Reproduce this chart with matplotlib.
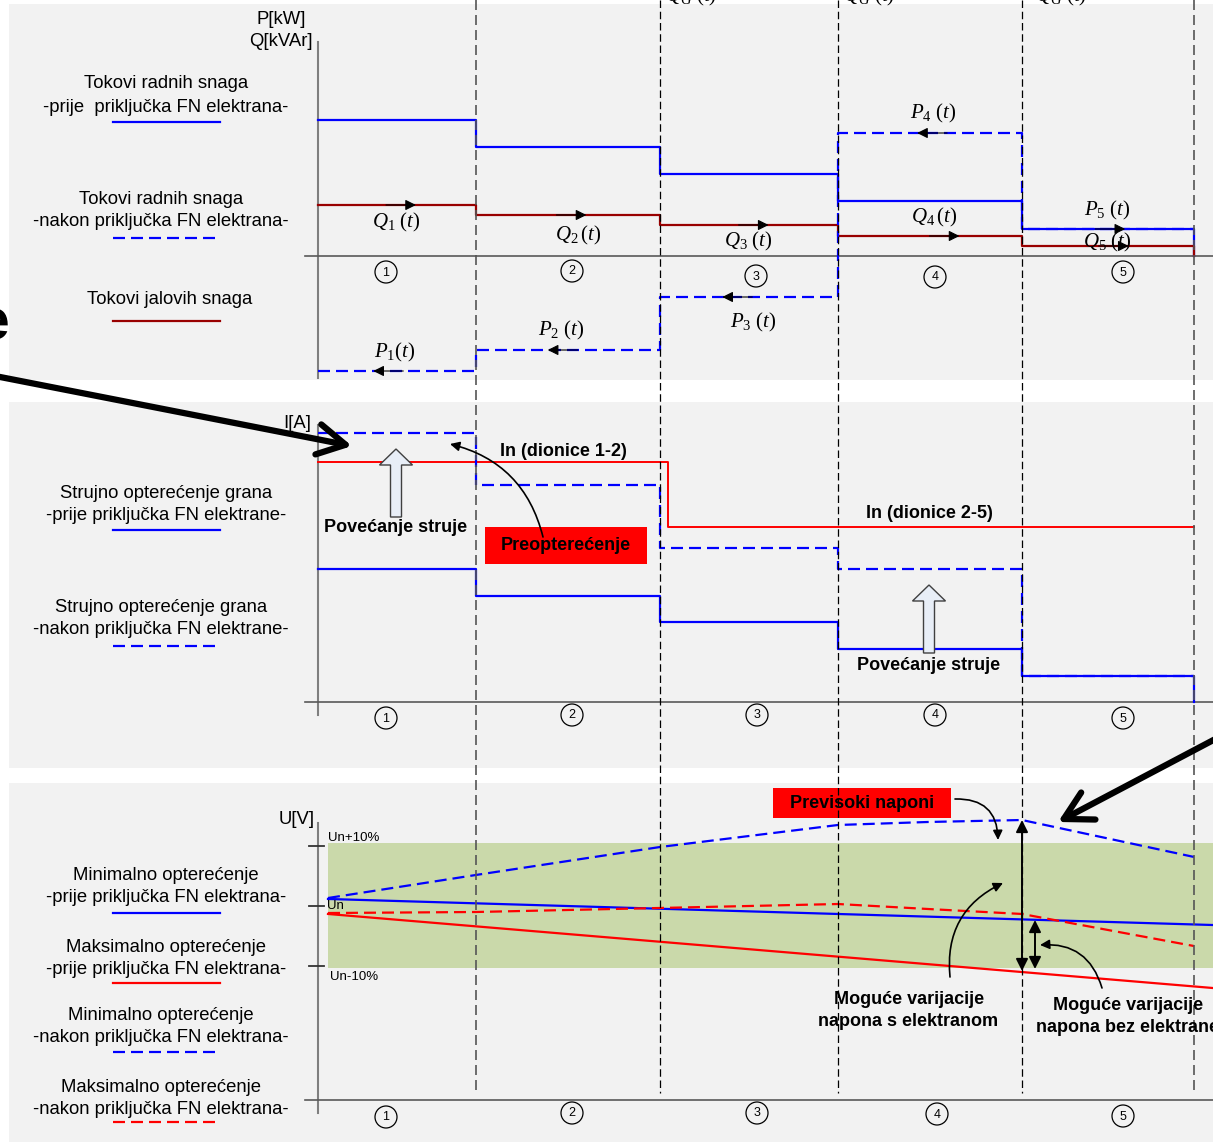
import matplotlib.pyplot as plt
import matplotlib.transforms as mtransforms
from matplotlib.patches import Rectangle, FancyArrow, Circle

plt.rcParams['font.family'] = ['Liberation Sans', 'DejaVu Sans']
plt.rcParams['mathtext.fontset'] = 'custom'
plt.rcParams['mathtext.rm'] = 'Liberation Serif'
plt.rcParams['mathtext.it'] = 'Liberation Serif:italic'

W, H = 1213, 1142

# feeder sections, distance along the line (arbitrary units)
sections = ['1', '2', '3', '4', '5']
edges = [0, 1.58, 3.42, 5.20, 7.04, 8.76]

# power flows per section
p_before = [13.6, 10.9, 8.2, 5.5, 2.7]
q_flow = [5.1, 4.1, 3.1, 2.0, 1.0]
p_after = [-11.5, -9.4, -4.1, 12.3, 2.7]

# branch currents per section
i_rated_x = [0, 3.50, 8.76]
i_rated = [24.0, 17.5]
i_before = [13.3, 10.6, 8.0, 5.3, 2.6]
i_after = [26.9, 21.7, 15.4, 13.3, 2.6]

# voltage profiles, % deviation from Un
u_x = [0.1, 8.95]
u_min_before = [1.17, -3.17]
u_max_before = [-1.33, -13.67]
u_after_x = [0.1, 1.58, 3.42, 5.20, 6.1, 7.04, 8.76]
u_min_after = [1.33, 5.17, 9.83, 13.5, 14.0, 14.33, 8.17]
u_max_after = [-1.17, -1.0, -0.33, 0.33, -0.5, -1.33, -6.67]
u_band = [-10.3, 10.5]

BLUE = '#0000ff'
RED = '#ff0000'
DRED = '#990000'
GRAY = '#7f7f7f'
DASH = (5.4, 2.7)

fig = plt.figure(figsize=(W / 100, H / 100), dpi=100)
fig.patch.set_facecolor('white')


def px_axes(z):
    a = fig.add_axes([0, 0, 1, 1], zorder=z)
    a.set_xlim(0, W)
    a.set_ylim(H, 0)
    a.axis('off')
    a.patch.set_alpha(0)
    return a


bg = px_axes(0)
for y0, y1 in [(4, 380), (402, 768), (783, 1142)]:
    bg.add_patch(Rectangle((9, y0), W - 9, y1 - y0, fc='#f2f2f2', ec='none'))


def panel(top, bottom, ylo, yhi):
    a = fig.add_axes([0, 1 - bottom / H, 1, (bottom - top) / H], zorder=1)
    a.set_xlim(-3.18, 8.95)
    a.set_ylim(ylo, yhi)
    a.axis('off')
    a.patch.set_alpha(0)
    return a


ax1 = panel(0, 380, -12.4, 25.6)
ax2 = panel(390, 768, -6.6, 31.2)
ax3 = panel(775, 1142, -39.33, 21.83)


def steps(ax, levels, drop=True, **kw):
    xs = list(edges)
    ys = list(levels) + [levels[-1]]
    if drop:
        xs.append(edges[-1])
        ys.append(0)
    ax.plot(xs, ys, drawstyle='steps-post', **kw)


# ---- panel 1: power flows
ax1.plot([0, 0], [21.4, -12.2], color=GRAY, lw=1.5)
ax1.plot([-0.13, 8.95], [0, 0], color='#595959', lw=1.2)
steps(ax1, p_before, color=BLUE, lw=1.6)
steps(ax1, q_flow, color=DRED, lw=1.6)
steps(ax1, p_after, drop=False, color=BLUE, lw=1.6, dashes=DASH)

q_at = [0.62, 0.60, 0.61, 0.66, 0.62]
p_at = [0.35, 0.39, 0.35, 0.43, 0.60]
p_dir = [-1, -1, -1, -1, 1]
for i in range(5):
    x = edges[i] + q_at[i] * (edges[i + 1] - edges[i])
    ax1.annotate('', xy=(x, q_flow[i]), xytext=(x - 0.3, q_flow[i]),
                 arrowprops=dict(arrowstyle='-|>', color='k', lw=0.8, mutation_scale=16,
                                 shrinkA=0, shrinkB=0))
    x = edges[i] + p_at[i] * (edges[i + 1] - edges[i])
    ax1.annotate('', xy=(x, p_after[i]), xytext=(x - 0.3 * p_dir[i], p_after[i]),
                 arrowprops=dict(arrowstyle='-|>', color='k', lw=0.8, mutation_scale=16,
                                 shrinkA=0, shrinkB=0))

# ---- panel 2: currents
ax2.plot([0, 0], [27.7, -1.3], color=GRAY, lw=1.5)
ax2.plot([-0.13, 8.95], [0, 0], color='#595959', lw=1.2)
ax2.plot(i_rated_x, i_rated + [i_rated[-1]], drawstyle='steps-post', color=RED, lw=1.4)
steps(ax2, i_before, color=BLUE, lw=1.6)
steps(ax2, i_after, drop=False, color=BLUE, lw=1.6, dashes=DASH)

# ---- panel 3: voltages
ax3.fill_between([0.1, 8.95], u_band[0], u_band[1], color='#cad9aa', lw=0)
ax3.plot([0, 0], [13.83, -34.5], color=GRAY, lw=1.5)
ax3.plot([-0.13, 8.95], [-32.33, -32.33], color='#595959', lw=1.2)
for u in [10, 0, -10]:
    ax3.plot([-0.09, 0.06], [u, u], color='#333333', lw=1.3)
ax3.plot(u_x, u_min_before, color=BLUE, lw=1.6)
ax3.plot(u_x, u_max_before, color=RED, lw=1.6)
ax3.plot(u_after_x, u_min_after, color=BLUE, lw=1.6, dashes=DASH)
ax3.plot(u_after_x, u_max_after, color=RED, lw=1.6, dashes=DASH)

# ---- overlay: section boundaries, labels, notes
ov = px_axes(5)
blend = mtransforms.blended_transform_factory(ax1.transData, ov.transData)
for k, x in enumerate(edges[1:]):
    end = k in (0, 4)
    ov.plot([x, x], [0, 1093], transform=blend, color='#555555' if end else 'k',
            lw=1.2 if end else 0.9, dashes=(6, 3))

circles = {
    270: [(386, 272), (572, 271), (756, 276), (935, 277), (1123, 272)],
    716: [(386, 718), (572, 715), (757, 715), (935, 715), (1123, 718)],
    1114: [(386, 1117), (572, 1113), (757, 1113), (937, 1114), (1123, 1116)],
}
for pts in circles.values():
    for (x, y), s in zip(pts, sections):
        ov.add_patch(Circle((x, y), 11, fill=False, ec='k', lw=0.9))
        ov.text(x, y + 0.5, s, ha='center', va='center', fontsize=9)

FS = 13.3
left_labels = [
    (166, 84, 'Tokovi radnih snaga'), (166, 107, '-prije  priključka FN elektrana-'),
    (161, 200, 'Tokovi radnih snaga'), (161, 222, '-nakon priključka FN elektrana-'),
    (170, 299, 'Tokovi jalovih snaga'),
    (166, 493, 'Strujno opterećenje grana'), (166, 515, '-prije priključka FN elektrane-'),
    (161, 608, 'Strujno opterećenje grana'), (161, 629, '-nakon priključka FN elektrane-'),
    (166, 876, 'Minimalno opterećenje'), (166, 898, '-prije priključka FN elektrana-'),
    (166, 947, 'Maksimalno opterećenje'), (166, 969, '-prije priključka FN elektrana-'),
    (161, 1015, 'Minimalno opterećenje'), (161, 1038, '-nakon priključka FN elektrana-'),
    (161, 1087, 'Maksimalno opterećenje'), (161, 1109, '-nakon priključka FN elektrana-'),
]
for x, y, t in left_labels:
    ov.text(x, y, t, ha='center', va='center', fontsize=FS)

samples = [(122, BLUE, False), (238, BLUE, True), (321, DRED, False),
           (530, BLUE, False), (646, BLUE, True),
           (913, BLUE, False), (983, RED, False), (1052, BLUE, True), (1122, RED, True)]
for y, c, dashed in samples:
    kw = dict(dashes=DASH) if dashed else {}
    ov.plot([113, 220], [y, y], color=c, lw=1.6, **kw)

for x, y, t in [(281, 19, 'P[kW]'), (281, 42, 'Q[kVAr]'), (297, 423, 'I[A]'), (297, 820, 'U[V]')]:
    ov.text(x, y, t, ha='center', va='center', fontsize=FS)
ov.text(328, 838, 'Un+10%', ha='left', va='center', fontsize=9.5)
ov.text(327, 906, 'Un', ha='left', va='center', fontsize=9.5)
ov.text(330, 977, 'Un-10%', ha='left', va='center', fontsize=9.5)

MFS = 15
math_labels = [
    (396, 222, r'$Q_1\ (t)$'), (578, 235, r'$Q_2\,(t)$'), (748, 241, r'$Q_3\ (t)$'),
    (934, 217, r'$Q_4\,(t)$'), (1107, 242, r'$Q_5\ (t)$'),
    (395, 352, r'$P_{\mathit{1}}(t)$'), (561, 330, r'$P_2\ (t)$'), (753, 322, r'$P_3\ (t)$'),
    (933, 113, r'$P_4\ (t)$'), (1107, 210, r'$P_5\ (t)$'),
]
for x, y, t in math_labels:
    ov.text(x, y, t, ha='center', va='center', fontsize=MFS)
for x in [665, 843, 1035]:
    ov.text(x, 1, r'$Q_G\ (t)$', ha='left', va='baseline', fontsize=MFS)

BFS = 13
bold_labels = [
    (563, 452, 'In (dionice 1-2)'), (929, 514, 'In (dionice 2-5)'),
    (396, 528, 'Povećanje struje'), (929, 665, 'Povećanje struje'),
    (909, 999, 'Moguće varijacije'), (908, 1022, 'napona s elektranom'),
    (1128, 1005, 'Moguće varijacije'), (1128, 1027, 'napona bez elektrane'),
]
for x, y, t in bold_labels:
    ov.text(x, y, t, ha='center', va='center', fontsize=BFS, fontweight='bold')

ov.add_patch(Rectangle((485, 527), 162, 37, fc=RED, ec='none'))
ov.text(566, 546, 'Preopterećenje', ha='center', va='center', fontsize=BFS, fontweight='bold')
ov.add_patch(Rectangle((773, 788), 178, 30, fc=RED, ec='none'))
ov.text(862, 803, 'Previsoki naponi', ha='center', va='center', fontsize=BFS, fontweight='bold')

for x, tail, tip in [(396, 517, 449), (929, 653, 585)]:
    ov.add_patch(FancyArrow(x, tail, 0, tip - tail, width=11, head_width=33, head_length=16,
                            length_includes_head=True, fc='#e8eef7', ec='#404040', lw=1))

curved = [((543, 537), (450, 444), 0.3), ((955, 799), (998, 840), -0.5),
          ((950, 977), (1003, 883), -0.35), ((1102, 988), (1040, 945), 0.4)]
for start, tip, rad in curved:
    ov.annotate('', xy=tip, xytext=start,
                arrowprops=dict(arrowstyle='-|>', color='k', lw=1.2, mutation_scale=14,
                                connectionstyle=f'arc3,rad={rad}', shrinkA=0, shrinkB=0))

for x, y0, y1 in [(1022, 820, 971), (1035, 920, 969)]:
    ov.annotate('', xy=(x, y0), xytext=(x, y1),
                arrowprops=dict(arrowstyle='<|-|>', color='k', lw=1.4, mutation_scale=18,
                                shrinkA=0, shrinkB=0))

for start, tip in [((-5, 376), (352, 446)), ((1240, 726), (1058, 822))]:
    ov.annotate('', xy=tip, xytext=start, annotation_clip=False,
                arrowprops=dict(arrowstyle='->,head_length=1.0,head_width=0.55', color='k',
                                lw=4.5, mutation_scale=20, shrinkA=0, shrinkB=0))
ov.text(10, 340, 'e', ha='right', va='baseline', fontsize=41, fontweight='bold')

fig.savefig('out.png', dpi=100)
